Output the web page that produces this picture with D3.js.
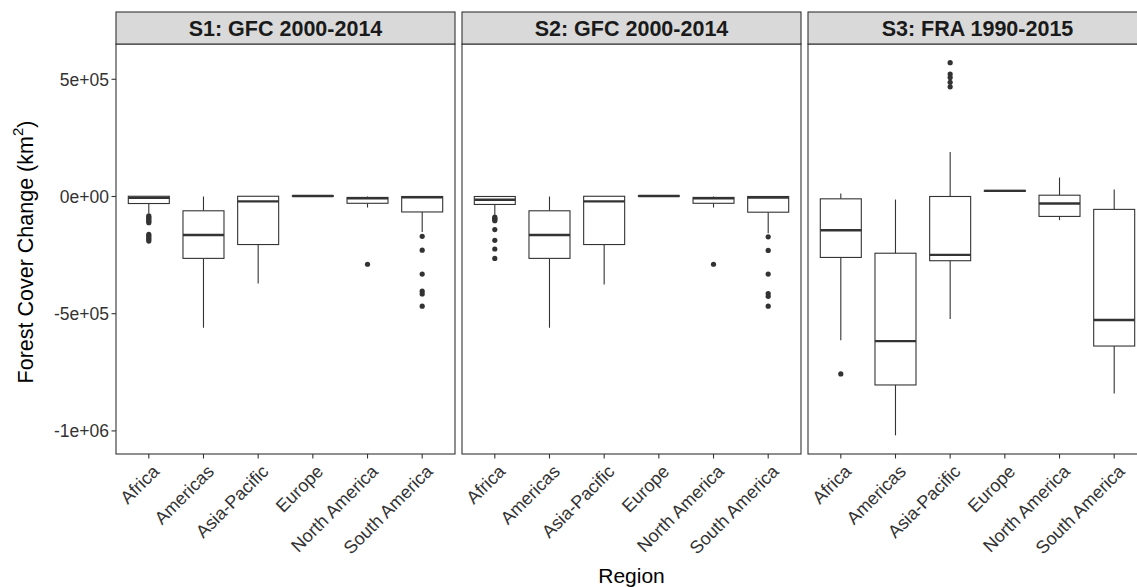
<!DOCTYPE html>
<html>
<head>
<meta charset="utf-8">
<script src="https://cdn.jsdelivr.net/npm/d3@7/dist/d3.min.js"></script>
<style>
  html, body { margin: 0; padding: 0; background: #fff; }
  svg { display: block; font-family: "Liberation Sans", Arial, sans-serif; }
</style>
</head>
<body>
<svg id="chart" width="1137" height="587"></svg>
<script>
// Facet titles and x categories
const panels = ["S1: GFC 2000-2014", "S2: GFC 2000-2014", "S3: FRA 1990-2015"];
const regions = ["Africa", "Americas", "Asia-Pacific", "Europe", "North America", "South America"];

// Box statistics per facet (one value per region), in km^2
const lowerWhisker = [
  [-72000, -560000, -371000, 0, -47000, -152000],
  [-78000, -560000, -375000, 0, -47000, -157000],
  [-613000, -1019000, -523000, 20000, -101000, -840000]
];
const lowerHinge = [
  [-30000, -264000, -205000, 1000, -29000, -66000],
  [-34000, -264000, -205000, 1000, -29000, -67000],
  [-260000, -804000, -274000, 22000, -85000, -638000]
];
const medians = [
  [-6000, -164000, -21000, 2000, -8000, -3000],
  [-14000, -164000, -21000, 2000, -8000, -4000],
  [-144000, -617000, -249000, 24000, -30000, -527000]
];
const upperHinge = [
  [1000, -61000, 1000, 3000, -4000, 0],
  [0, -61000, 1000, 3000, -4000, 0],
  [-10000, -242000, 0, 26000, 5500, -55000]
];
const upperWhisker = [
  [1000, 0, 2000, 4000, 0, 0],
  [1000, 0, 2000, 4000, 0, 0],
  [13000, -13000, 190000, 28000, 81000, 30000]
];
// Outlying points per facet and region
const outliers = [
  [
    [-83000, -88000, -94000, -100000, -106000, -112000, -162000, -168000, -175000, -182000, -190000],
    [], [], [],
    [-289000],
    [-170000, -229000, -331000, -404000, -416000, -468000]
  ],
  [
    [-88000, -93000, -98000, -103000, -141000, -187000, -224000, -264000],
    [], [], [],
    [-289000],
    [-172000, -230000, -331000, -414000, -426000, -468000]
  ],
  [
    [-757000],
    [],
    [571000, 522000, 508000, 487000, 468000],
    [], [], []
  ]
];

const yTicks = [-1000000, -500000, 0, 500000];
const yTickLabels = ["-1e+06", "-5e+05", "0e+00", "5e+05"];

// Layout
const panelLeft = [116, 462, 808];
const panelW = 339;
const stripTop = 12;
const plotTop = 44;
const plotBottom = 454;
const ink = "#333333";

const svg = d3.select("#chart");

// Shared y scale with 5% padding around the data range
const allVals = [];
for (let p = 0; p < panels.length; p++) {
  allVals.push(...lowerWhisker[p], ...upperWhisker[p]);
  outliers[p].forEach(o => allVals.push(...o));
}
const yMin = d3.min(allVals), yMax = d3.max(allVals);
const pad = (yMax - yMin) * 0.05;
const y = d3.scaleLinear().domain([yMin - pad, yMax + pad]).range([plotBottom, plotTop]);

panels.forEach((title, p) => {
  const x0 = panelLeft[p];
  const x = d3.scalePoint().domain(regions).range([x0, x0 + panelW]).padding(0.6);
  const boxW = x.step() * 0.75;
  const g = svg.append("g");

  // panel background and border
  g.append("rect")
    .attr("x", x0).attr("y", plotTop)
    .attr("width", panelW).attr("height", plotBottom - plotTop)
    .attr("fill", "#fff").attr("stroke", ink).attr("stroke-width", 1.1);

  // strip
  g.append("rect")
    .attr("x", x0).attr("y", stripTop)
    .attr("width", panelW).attr("height", plotTop - stripTop)
    .attr("fill", "#d9d9d9").attr("stroke", ink).attr("stroke-width", 1.1);
  g.append("text")
    .attr("x", x0 + panelW / 2).attr("y", (stripTop + plotTop) / 2)
    .attr("dy", "0.36em")
    .attr("text-anchor", "middle")
    .attr("font-size", 21.5).attr("font-weight", "bold")
    .attr("fill", "#1a1a1a")
    .text(title);

  // boxes
  regions.forEach((r, i) => {
    const cx = x(r);
    const bg = g.append("g");
    bg.append("line")
      .attr("x1", cx).attr("x2", cx)
      .attr("y1", y(upperWhisker[p][i])).attr("y2", y(upperHinge[p][i]))
      .attr("stroke", ink).attr("stroke-width", 1.1);
    bg.append("line")
      .attr("x1", cx).attr("x2", cx)
      .attr("y1", y(lowerHinge[p][i])).attr("y2", y(lowerWhisker[p][i]))
      .attr("stroke", ink).attr("stroke-width", 1.1);
    bg.append("rect")
      .attr("x", cx - boxW / 2).attr("width", boxW)
      .attr("y", y(upperHinge[p][i]))
      .attr("height", Math.max(0, y(lowerHinge[p][i]) - y(upperHinge[p][i])))
      .attr("fill", "#fff").attr("stroke", ink).attr("stroke-width", 1.1);
    bg.append("line")
      .attr("x1", cx - boxW / 2).attr("x2", cx + boxW / 2)
      .attr("y1", y(medians[p][i])).attr("y2", y(medians[p][i]))
      .attr("stroke", ink).attr("stroke-width", 2.4);
    bg.selectAll("circle")
      .data(outliers[p][i])
      .join("circle")
      .attr("cx", cx).attr("cy", d => y(d)).attr("r", 2.6)
      .attr("fill", ink);
  });

  // x axis ticks and rotated labels
  const xa = g.append("g");
  regions.forEach(r => {
    xa.append("line")
      .attr("x1", x(r)).attr("x2", x(r))
      .attr("y1", plotBottom).attr("y2", plotBottom + 4.5)
      .attr("stroke", ink).attr("stroke-width", 1.1);
    xa.append("text")
      .attr("transform", `translate(${x(r) + 2},${plotBottom + 9}) rotate(-45)`)
      .attr("text-anchor", "end")
      .attr("dy", "0.75em")
      .attr("font-size", 18)
      .attr("fill", "#333")
      .text(r);
  });

  // y axis on the first facet only
  if (p === 0) {
    const ya = g.append("g");
    yTicks.forEach((t, k) => {
      ya.append("line")
        .attr("x1", x0 - 4.5).attr("x2", x0)
        .attr("y1", y(t)).attr("y2", y(t))
        .attr("stroke", ink).attr("stroke-width", 1.1);
      ya.append("text")
        .attr("x", x0 - 7).attr("y", y(t))
        .attr("dy", "0.36em")
        .attr("text-anchor", "end")
        .attr("font-size", 17.5)
        .attr("fill", "#333")
        .text(yTickLabels[k]);
    });
  }
});

// axis titles
svg.append("text")
  .attr("x", (panelLeft[0] + panelLeft[2] + panelW) / 2)
  .attr("y", 583)
  .attr("text-anchor", "middle")
  .attr("font-size", 21)
  .attr("fill", "#000")
  .text("Region");

const yt = svg.append("text")
  .attr("transform", `translate(33,${(plotTop + plotBottom) / 2 + 3}) rotate(-90)`)
  .attr("text-anchor", "middle")
  .attr("font-size", 21.5)
  .attr("fill", "#000");
yt.append("tspan").text("Forest Cover Change (km");
yt.append("tspan").attr("font-size", 15).attr("dy", "-10").text("2");
yt.append("tspan").attr("dy", "10").text(")");
</script>
</body>
</html>
